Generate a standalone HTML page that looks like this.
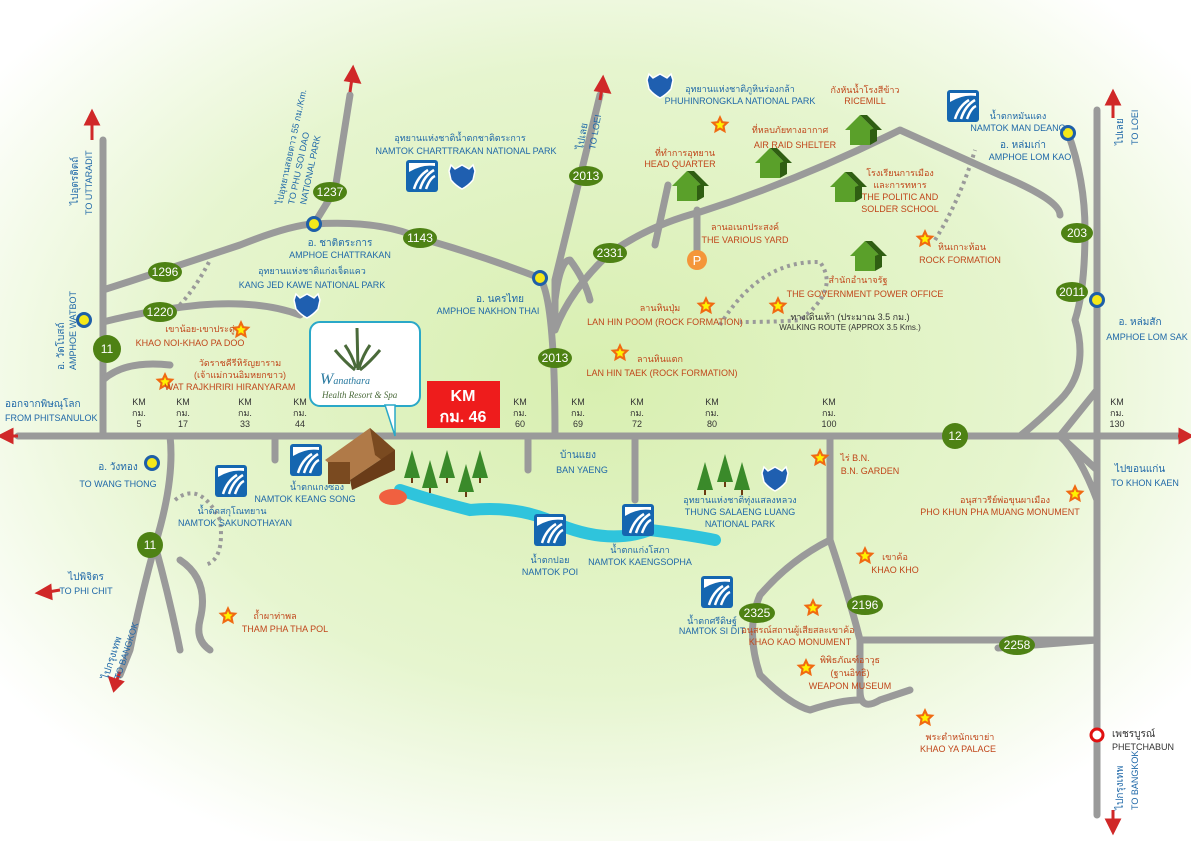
<!DOCTYPE html>
<html><head><meta charset="utf-8"><style>
html,body{margin:0;padding:0;background:#fff}
svg{display:block}
text{font-family:"Liberation Sans","DejaVu Sans",sans-serif;font-size:9px}
.b{fill:#1f68a8}.o{fill:#c0461a}.k{fill:#333}
.rn{fill:#fff;font-size:12px;text-anchor:middle}
</style></head><body>
<svg width="1191" height="841" viewBox="0 0 1191 841" xmlns="http://www.w3.org/2000/svg">
<defs>
<radialGradient id="bg" cx="0.5" cy="0.45" r="0.62">
<stop offset="0" stop-color="#d8efb0"/><stop offset="0.6" stop-color="#e6f5cf"/><stop offset="1" stop-color="#ffffff"/>
</radialGradient>
<g id="star"><polygon points="0,-10 2.9,-3.8 9.5,-3.1 4.6,1.5 5.9,8.1 0,4.8 -5.9,8.1 -4.6,1.5 -9.5,-3.1 -2.9,-3.8" fill="#f06a12"/><polygon points="0,-5 1.4,-1.9 4.7,-1.5 2.3,0.8 2.9,4 0,2.4 -2.9,4 -2.3,0.8 -4.7,-1.5 -1.4,-1.9" fill="#fff200"/></g>
<g id="house"><polygon points="-15,0 0,-15 15,0" fill="#5aa02a"/><polygon points="0,-15 7,-15 22,0 15,0" fill="#2f5e12"/><rect x="-10" y="0" width="20" height="15" fill="#5aa02a"/><polygon points="10,0 17,-3 17,11 10,15" fill="#2f5e12"/></g>
<g id="wf"><rect x="-16" y="-16" width="32" height="32" rx="3" fill="#1566b0"/><rect x="-13" y="-13" width="26" height="26" fill="#fff"/><path d="M-13,-4 Q0,-12 13,-10 L13,13 L-13,13Z" fill="#1566b0"/><path d="M-8,13 Q-4,0 6,-6 M-2,13 Q2,0 12,-6 M4,13 Q8,2 13,0" stroke="#fff" stroke-width="2.5" fill="none"/></g>
<g id="sh"><path d="M-11,-11 L-7,-7 L0,-11 L7,-7 L11,-11 L13,-5 L11,4 Q6,10 0,13 Q-6,10 -11,4 L-13,-5Z" fill="#1f5fb0" stroke="#fff" stroke-width="1.5"/></g>
<g id="tree"><polygon points="0,-28 8,0 -8,0" fill="#3a8a2a"/><rect x="-1" y="0" width="2" height="5" fill="#6b3a12"/></g>
<g id="amp"><circle r="8" fill="#1e5fa8"/><circle r="5" fill="#f4e81a"/></g>
</defs>
<rect width="1191" height="841" fill="url(#bg)"/>

<path d="M400,490 Q430,500 470,510 Q520,505 560,525 Q610,545 650,530 Q690,535 715,540" stroke="#2fc4dc" stroke-width="12" fill="none" stroke-linecap="round"/>

<g stroke="#9a9a9a" stroke-width="7" fill="none" stroke-linecap="round" stroke-linejoin="round">
<path d="M18,436 L1178,436"/>
<path d="M103,140 L103,436"/>
<path d="M1097,110 L1097,815"/>
<path d="M103,290 Q150,275 240,245 Q290,225 314,224 Q380,220 420,238 Q480,255 540,278"/>
<path d="M314,224 L335,190 L350,95"/>
<path d="M103,322 Q150,310 200,305 Q260,300 300,315"/>
<path d="M103,380 Q125,360 170,365"/>
<path d="M540,278 Q555,300 555,436"/>
<path d="M555,330 L555,280 L600,95"/>
<path d="M555,330 Q570,290 610,253 Q650,225 700,212 Q800,180 900,130 L1000,175 Q1060,200 1060,215"/>
<path d="M555,300 Q560,260 570,260 Q585,280 590,300"/>
<path d="M655,245 L668,185"/>
<path d="M697,210 L697,255"/>
<path d="M1068,133 Q1085,180 1085,230 Q1085,290 1075,320 Q1090,370 1060,400 Q1040,420 1020,436"/>
<path d="M1097,390 L1060,436 L1097,470"/>
<path d="M1060,436 Q1080,455 1097,500"/>
<path d="M170,436 Q175,480 155,545 Q140,600 130,650 L120,675"/>
<path d="M180,560 Q210,580 200,620 Q195,640 210,650"/>
<path d="M155,545 Q170,600 180,650"/>
<path d="M275,436 L275,460"/>
<path d="M528,436 L528,470"/>
<path d="M635,436 L635,500"/>
<path d="M830,436 L830,540 Q850,600 860,640 L1097,640"/>
<path d="M830,540 Q790,560 760,595 Q745,630 760,675 Q790,705 810,710 Q840,700 860,700 L860,640"/>
<path d="M860,690 Q860,712 880,700 Q895,695 910,690"/>
<path d="M998,648 L1097,640"/>
</g>
<g stroke="#9a9a9a" stroke-width="4" fill="none" stroke-dasharray="3,4">
<path d="M175,310 Q195,290 210,260"/>
<path d="M175,500 Q200,480 220,520 Q225,560 205,565"/>
<path d="M720,325 Q760,260 820,262 Q840,290 800,320 Q780,322 740,322"/>
<path d="M935,240 Q960,200 975,150"/>
</g>
<g fill="#d02828" stroke="#d02828" stroke-width="3">
<path d="M92,140 L92,122"/><polygon points="86,124 92,112 98,124"/>
<path d="M350,92 L352,78"/><polygon points="346,80 353,68 359,82"/>
<path d="M600,100 L602,88"/><polygon points="596,90 603,78 609,92"/>
<path d="M1113,118 L1113,102"/><polygon points="1107,104 1113,92 1119,104"/>
<path d="M18,436 L8,436" /><polygon points="12,430 0,436 12,442"/>
<path d="M1178,436 L1184,436"/><polygon points="1180,430 1191,436 1180,442"/>
<path d="M60,590 L48,592"/><polygon points="50,586 38,593 51,598"/>
<path d="M120,672 L116,682"/><polygon points="110,678 114,690 122,682"/>
<path d="M1113,810 L1113,822"/><polygon points="1107,820 1113,832 1119,820"/>
</g>

<g fill="#4e8214">
<ellipse cx="330" cy="192" rx="17" ry="10"/><ellipse cx="420" cy="238" rx="17" ry="10"/>
<ellipse cx="165" cy="272" rx="17" ry="10"/><ellipse cx="160" cy="312" rx="17" ry="10"/>
<circle cx="107" cy="349" r="14"/><ellipse cx="586" cy="176" rx="17" ry="10"/>
<ellipse cx="555" cy="358" rx="17" ry="10"/><ellipse cx="610" cy="253" rx="17" ry="10"/>
<circle cx="955" cy="436" r="13"/><ellipse cx="1077" cy="233" rx="16" ry="10"/>
<ellipse cx="1072" cy="292" rx="16" ry="10"/><circle cx="150" cy="545" r="13"/>
<ellipse cx="757" cy="613" rx="18" ry="10"/><ellipse cx="865" cy="605" rx="18" ry="10"/>
<ellipse cx="1017" cy="645" rx="18" ry="10"/>
</g>
<g>
<text x="330" y="196" class="rn">1237</text><text x="420" y="242" class="rn">1143</text>
<text x="165" y="276" class="rn">1296</text><text x="160" y="316" class="rn">1220</text>
<text x="107" y="353" class="rn">11</text><text x="586" y="180" class="rn">2013</text>
<text x="555" y="362" class="rn">2013</text><text x="610" y="257" class="rn">2331</text>
<text x="955" y="440" class="rn">12</text><text x="1077" y="237" class="rn">203</text>
<text x="1072" y="296" class="rn">2011</text><text x="150" y="549" class="rn">11</text>
<text x="757" y="617" class="rn">2325</text><text x="865" y="609" class="rn">2196</text>
<text x="1017" y="649" class="rn">2258</text>
</g>

<use href="#amp" x="314" y="224"/><use href="#amp" x="540" y="278"/><use href="#amp" x="84" y="320"/>
<use href="#amp" x="152" y="463"/><use href="#amp" x="1068" y="133"/><use href="#amp" x="1097" y="300"/>
<circle cx="1097" cy="735" r="6" fill="#fff" stroke="#e01010" stroke-width="3"/>

<use href="#wf" x="422" y="176"/><use href="#sh" x="462" y="176"/>
<use href="#sh" x="307" y="305"/><use href="#sh" x="660" y="85"/>
<use href="#wf" x="963" y="106"/><use href="#wf" x="306" y="460"/><use href="#wf" x="231" y="481"/>
<use href="#wf" x="550" y="530"/><use href="#wf" x="638" y="520"/><use href="#wf" x="717" y="592"/>
<use href="#sh" x="775" y="478"/>
<use href="#house" x="687" y="186"/><use href="#house" x="770" y="163"/><use href="#house" x="860" y="130"/>
<use href="#house" x="845" y="187"/><use href="#house" x="865" y="256"/>
<circle cx="697" cy="260" r="10" fill="#f4963a"/><text x="697" y="265" fill="#fff" text-anchor="middle" style="font-size:13px">P</text>
<g><use href="#star" x="241" y="330"/><use href="#star" x="165" y="382"/><use href="#star" x="720" y="125"/>
<use href="#star" x="706" y="306"/><use href="#star" x="778" y="306"/><use href="#star" x="620" y="353"/>
<use href="#star" x="925" y="239"/><use href="#star" x="820" y="458"/><use href="#star" x="1075" y="494"/>
<use href="#star" x="865" y="556"/><use href="#star" x="813" y="608"/><use href="#star" x="806" y="668"/>
<use href="#star" x="925" y="718"/><use href="#star" x="228" y="616"/></g>
<use href="#tree" x="412" y="478"/><use href="#tree" x="430" y="488"/><use href="#tree" x="447" y="478"/><use href="#tree" x="466" y="492"/><use href="#tree" x="480" y="478"/>
<use href="#tree" x="705" y="490"/><use href="#tree" x="725" y="482"/><use href="#tree" x="742" y="490"/>
<polygon points="325,460 370,428 395,450 350,480" fill="#b07a48"/>
<polygon points="370,428 395,450 395,470 375,455" fill="#7a4a20"/>
<rect x="328" y="462" width="22" height="22" fill="#7a4a20"/><polygon points="350,480 395,450 395,470 352,490" fill="#6a3c18"/>
<ellipse cx="393" cy="497" rx="14" ry="8" fill="#f06040"/>
<rect x="310" y="322" width="110" height="84" rx="10" fill="#fff" stroke="#2aa8c8" stroke-width="2"/>
<polygon points="385,405 395,405 395,436" fill="#fff" stroke="#2aa8c8" stroke-width="1.5"/>
<path d="M357,328 L358,370 M345,345 Q352,355 356,368 M370,345 Q363,355 359,368 M335,350 Q345,362 355,370 M380,350 Q370,362 360,370" stroke="#4a6a3a" stroke-width="3" fill="none"/>
<text x="320" y="384" style="font-family:'Liberation Serif',serif;font-size:16px;font-style:italic" fill="#2a7aa0">W<tspan style="font-size:10px">anathara</tspan></text>
<text x="322" y="398" style="font-family:'Liberation Serif',serif;font-size:9px;font-style:italic" fill="#4a6a3a">Health Resort &amp; Spa</text>
<rect x="427" y="381" width="73" height="47" fill="#ee1c1c"/>
<text x="463" y="401" fill="#fff" text-anchor="middle" style="font-size:16px;font-weight:bold">KM</text>
<text x="463" y="422" fill="#fff" text-anchor="middle" style="font-size:16px;font-weight:bold">กม. 46</text>

<g class="k" text-anchor="middle">
<text x="139" y="405">KM</text><text x="139" y="416">กม.</text><text x="139" y="427">5</text>
<text x="183" y="405">KM</text><text x="183" y="416">กม.</text><text x="183" y="427">17</text>
<text x="245" y="405">KM</text><text x="245" y="416">กม.</text><text x="245" y="427">33</text>
<text x="300" y="405">KM</text><text x="300" y="416">กม.</text><text x="300" y="427">44</text>
<text x="520" y="405">KM</text><text x="520" y="416">กม.</text><text x="520" y="427">60</text>
<text x="578" y="405">KM</text><text x="578" y="416">กม.</text><text x="578" y="427">69</text>
<text x="637" y="405">KM</text><text x="637" y="416">กม.</text><text x="637" y="427">72</text>
<text x="712" y="405">KM</text><text x="712" y="416">กม.</text><text x="712" y="427">80</text>
<text x="829" y="405">KM</text><text x="829" y="416">กม.</text><text x="829" y="427">100</text>
<text x="1117" y="405">KM</text><text x="1117" y="416">กม.</text><text x="1117" y="427">130</text>
</g>

<g class="b">
<text x="5" y="407" style="font-size:10px">ออกจากพิษณุโลก</text><text x="5" y="421">FROM PHITSANULOK</text>
<text x="340" y="246" text-anchor="middle" style="font-size:10px">อ. ชาติตระการ</text><text x="340" y="258" text-anchor="middle">AMPHOE CHATTRAKAN</text>
<text x="460" y="141" text-anchor="middle">อุทยานแห่งชาติน้ำตกชาติตระการ</text><text x="466" y="154" text-anchor="middle">NAMTOK CHARTTRAKAN NATIONAL PARK</text>
<text x="312" y="274" text-anchor="middle">อุทยานแห่งชาติแก่งเจ็ดแคว</text><text x="312" y="288" text-anchor="middle">KANG JED KAWE NATIONAL PARK</text>
<text x="500" y="302" text-anchor="middle" style="font-size:10px">อ. นครไทย</text><text x="488" y="314" text-anchor="middle">AMPHOE NAKHON THAI</text>
<text x="740" y="92" text-anchor="middle">อุทยานแห่งชาติภูหินร่องกล้า</text><text x="740" y="104" text-anchor="middle">PHUHINRONGKLA NATIONAL PARK</text>
<text x="1018" y="119" text-anchor="middle">น้ำตกหมันแดง</text><text x="1018" y="131" text-anchor="middle">NAMTOK MAN DEANG</text>
<text x="1023" y="148" text-anchor="middle" style="font-size:10px">อ. หล่มเก่า</text><text x="1030" y="160" text-anchor="middle">AMPHOE LOM KAO</text>
<text x="1140" y="325" text-anchor="middle" style="font-size:10px">อ. หล่มสัก</text><text x="1147" y="340" text-anchor="middle">AMPHOE LOM SAK</text>
<text x="118" y="470" text-anchor="middle" style="font-size:10px">อ. วังทอง</text><text x="118" y="487" text-anchor="middle">TO WANG THONG</text>
<text x="317" y="490" text-anchor="middle">น้ำตกแกงซอง</text><text x="305" y="502" text-anchor="middle">NAMTOK KEANG SONG</text>
<text x="232" y="514" text-anchor="middle">น้ำตกสกุโณทยาน</text><text x="235" y="526" text-anchor="middle">NAMTOK SAKUNOTHAYAN</text>
<text x="578" y="458" text-anchor="middle" style="font-size:10px">บ้านแยง</text>
<text x="582" y="473" text-anchor="middle">BAN YAENG</text>
<text x="550" y="563" text-anchor="middle">น้ำตกปอย</text><text x="550" y="575" text-anchor="middle">NAMTOK POI</text>
<text x="640" y="553" text-anchor="middle">น้ำตกแก่งโสภา</text><text x="640" y="565" text-anchor="middle">NAMTOK KAENGSOPHA</text>
<text x="740" y="503" text-anchor="middle">อุทยานแห่งชาติทุ่งแสลงหลวง</text><text x="740" y="515" text-anchor="middle">THUNG SALAENG LUANG</text><text x="740" y="527" text-anchor="middle">NATIONAL PARK</text>
<text x="712" y="624" text-anchor="middle">น้ำตกศรีดิษฐ์</text><text x="712" y="634" text-anchor="middle">NAMTOK SI DIT</text>
<text x="86" y="580" style="font-size:10px" text-anchor="middle">ไปพิจิตร</text><text x="86" y="594" text-anchor="middle">TO PHI CHIT</text>
<text x="1140" y="472" text-anchor="middle" style="font-size:10px">ไปขอนแก่น</text><text x="1145" y="486" text-anchor="middle">TO KHON KAEN</text>
<text x="1112" y="737" class="k" style="font-size:10px">เพชรบูรณ์</text><text x="1112" y="750" class="k">PHETCHABUN</text>
<text transform="translate(78,205) rotate(-90)" style="font-size:10px">ไปอุตรดิตถ์</text><text transform="translate(92,215) rotate(-90)">TO UTTARADIT</text>
<text transform="translate(64,370) rotate(-90)" style="font-size:10px">อ. วัดโบสถ์</text><text transform="translate(76,370) rotate(-90)">AMPHOE WATBOT</text>
<text transform="translate(583,150) rotate(-80)" style="font-size:10px">ไปเลย</text><text transform="translate(595,150) rotate(-80)">TO LOEI</text>
<text transform="translate(1123,145) rotate(-90)" style="font-size:10px">ไปเลย</text><text transform="translate(1138,145) rotate(-90)">TO LOEI</text>
<text transform="translate(282,205) rotate(-78)">ไปอุทยานสอยดาว 55 กม./Km.</text><text transform="translate(294,205) rotate(-78)">TO PHU SOI DAO</text><text transform="translate(306,205) rotate(-78)">NATIONAL PARK</text>
<text transform="translate(108,680) rotate(-72)" style="font-size:10px">ไปกรุงเทพ</text><text transform="translate(120,680) rotate(-72)">TO BANGKOK</text>
<text transform="translate(1123,810) rotate(-90)" style="font-size:10px">ไปกรุงเทพ</text><text transform="translate(1138,810) rotate(-90)">TO BANGKOK</text>
</g>
<g class="o" text-anchor="middle">
<text x="200" y="332">เขาน้อย-เขาประดู่</text><text x="190" y="346">KHAO NOI-KHAO PA DOO</text>
<text x="240" y="366">วัดราชคีรีหิรัญยาราม</text><text x="240" y="378">(เจ้าแม่กวนอิมหยกขาว)</text><text x="230" y="390">WAT RAJKHRIRI HIRANYARAM</text>
<text x="685" y="156">ที่ทำการอุทยาน</text><text x="680" y="167">HEAD QUARTER</text>
<text x="790" y="133">ที่หลบภัยทางอากาศ</text><text x="795" y="148">AIR RAID SHELTER</text>
<text x="865" y="93">กังหันน้ำโรงสีข้าว</text><text x="865" y="104">RICEMILL</text>
<text x="900" y="176">โรงเรียนการเมือง</text><text x="900" y="188">และการทหาร</text><text x="900" y="200">THE POLITIC AND</text><text x="900" y="212">SOLDER SCHOOL</text>
<text x="745" y="230">ลานอเนกประสงค์</text><text x="745" y="243">THE VARIOUS YARD</text>
<text x="858" y="283">สำนักอำนาจรัฐ</text><text x="865" y="297">THE GOVERNMENT POWER OFFICE</text>
<text x="962" y="250">หินเกาะห้อน</text><text x="960" y="263">ROCK FORMATION</text>
<text x="660" y="311">ลานหินปุ่ม</text><text x="665" y="325">LAN HIN POOM (ROCK FORMATION)</text>
<text x="850" y="320" style="fill:#333">ทางเดินเท้า (ประมาณ 3.5 กม.)</text><text x="850" y="330" style="fill:#333;font-size:8px">WALKING ROUTE (APPROX 3.5 Kms.)</text>
<text x="660" y="362">ลานหินแตก</text><text x="662" y="376">LAN HIN TAEK (ROCK FORMATION)</text>
<text x="855" y="461">ไร่ B.N.</text><text x="870" y="474">B.N. GARDEN</text>
<text x="1005" y="503">อนุสาวรีย์พ่อขุนผาเมือง</text><text x="1000" y="515">PHO KHUN PHA MUANG MONUMENT</text>
<text x="895" y="560">เขาค้อ</text><text x="895" y="573">KHAO KHO</text>
<text x="798" y="633">อนุสรณ์สถานผู้เสียสละเขาค้อ</text><text x="800" y="645">KHAO KAO MONUMENT</text>
<text x="850" y="663">พิพิธภัณฑ์อาวุธ</text><text x="850" y="676">(ฐานอิทธิ)</text><text x="850" y="689">WEAPON MUSEUM</text>
<text x="960" y="740">พระตำหนักเขาย่า</text><text x="958" y="752">KHAO YA PALACE</text>
<text x="275" y="619">ถ้ำผาท่าพล</text><text x="285" y="632">THAM PHA THA POL</text>
</g>
</svg>
</body></html>
